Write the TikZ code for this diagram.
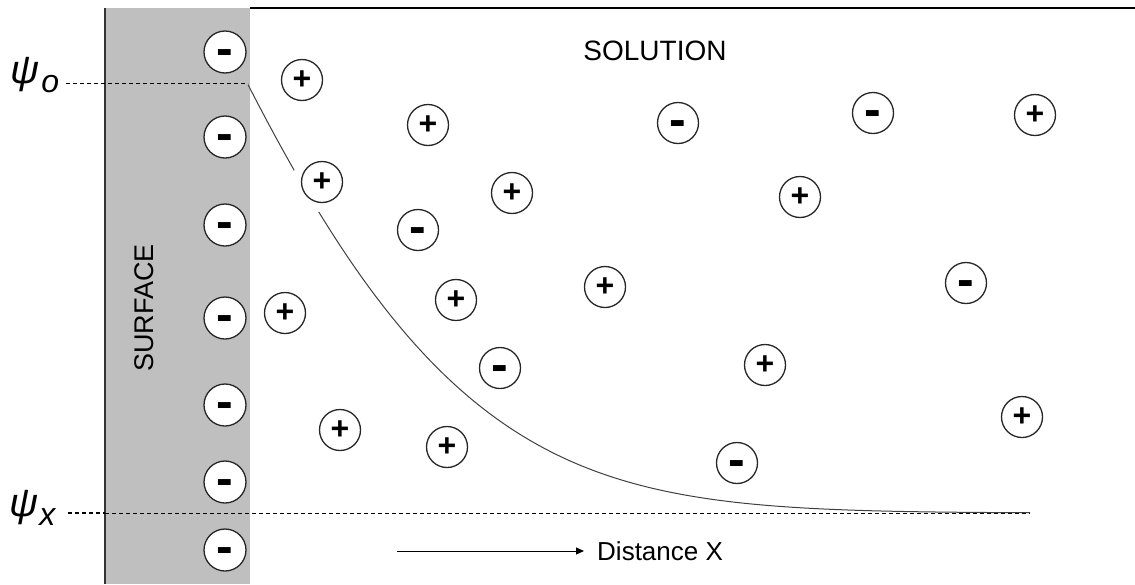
\documentclass[tikz,border=0pt]{standalone}
\usepackage{fontspec}
\setmainfont{Liberation Sans}
\usetikzlibrary{arrows.meta}
\tikzset{
  ion/.style={circle, draw=black!85, line width=1.3pt, fill=white, minimum size=41pt, inner sep=0pt},
  cation/.style={ion, font=\fontsize{32}{32}\selectfont\bfseries},
  anion/.style={ion, font=\fontsize{50}{50}\selectfont\bfseries, text height=26.5pt, text depth=0pt},
  halo/.style={circle, fill=white, minimum size=60pt, inner sep=0pt},
  lbl/.style={inner sep=0pt},
  potlbl/.style={inner sep=0pt, anchor=base west, font=\fontsize{32}{32}\selectfont\itshape},
  dashline/.style={dash pattern=on 4pt off 3pt, line width=0.9pt},
}
\begin{document}
\begin{tikzpicture}[x=1pt,y=-1pt]
\useasboundingbox (0,0) rectangle (1135,584);
% surface
\fill[black!25] (105,8) rectangle (250,584);
\draw[line width=1.4pt, black!80] (105,8) -- (105,584);
\draw[line width=1.8pt] (250,8) -- (1135,8);
\node[lbl, rotate=90, font=\fontsize{27}{27}\selectfont] (surf) at (144,308) {SURFACE};
\node[lbl, font=\fontsize{28}{28}\selectfont] (sol) at (655,51) {SOLUTION};
% potential labels
\node[potlbl] (psio) at (10,83) {{\fontsize{40}{40}\selectfont ψ}\kern2pt\raisebox{-9pt}{o}};
\node[potlbl] (psix) at (9,516) {{\fontsize{40}{40}\selectfont ψ}\kern1pt\raisebox{-9pt}{x}};
\coordinate (o0) at (66,83);
\coordinate (o1) at (248,83);
\coordinate (x0) at (68,513);
\coordinate (xs) at (105,513);
\coordinate (x1) at (1030,513);
\draw[dashline, line width=0.8pt] (o0) -- (o1);
\draw[dashline, line width=1.8pt] (x0) -- (xs);
\draw[dashline] (xs) -- (x1);
% decay curve
\draw[line width=1pt, black!75, domain=248:1030, samples=160, variable=\t]
  plot ({\t},{513-exp(6.06-(\t-248)/220-((\t-248)/401.6)^2)});
% halo around ion crossing the curve
\node[halo] (h1) at (322,182) {};
% surface ions
\foreach \y [count=\i] in {52,137,225,318,405,482,550}
  \node[anion, minimum size=42pt] (s\i) at (225,\y) {-};
% solution ions
\node[cation] (p1) at (302,80) {+};
\node[cation] (p2) at (428,125) {+};
\node[anion] (n1) at (678,123) {-};
\node[anion] (n2) at (873,113) {-};
\node[cation] (p3) at (1035,115) {+};
\node[cation] (p4) at (322,182) {+};
\node[cation] (p5) at (512,193) {+};
\node[cation] (p6) at (800,197) {+};
\node[anion] (n3) at (418,230) {-};
\node[cation] (p7) at (285,313) {+};
\node[cation] (p8) at (456,300) {+};
\node[cation] (p9) at (605,287) {+};
\node[anion] (n4) at (966,283) {-};
\node[anion] (n5) at (500,368) {-};
\node[cation] (p10) at (765,365) {+};
\node[cation] (p11) at (340,430) {+};
\node[cation] (p12) at (447,447) {+};
\node[anion] (n6) at (737,463) {-};
\node[cation] (p13) at (1022,417) {+};
% distance arrow
\coordinate (a0) at (397,551);
\coordinate (a1) at (584,551);
\node[lbl, anchor=west, font=\fontsize{26}{26}\selectfont] (dist) at (597,551) {Distance X};
\draw[line width=1pt, -{Triangle[length=8pt,width=7pt]}] (a0) -- (a1);
\end{tikzpicture}
\end{document}
